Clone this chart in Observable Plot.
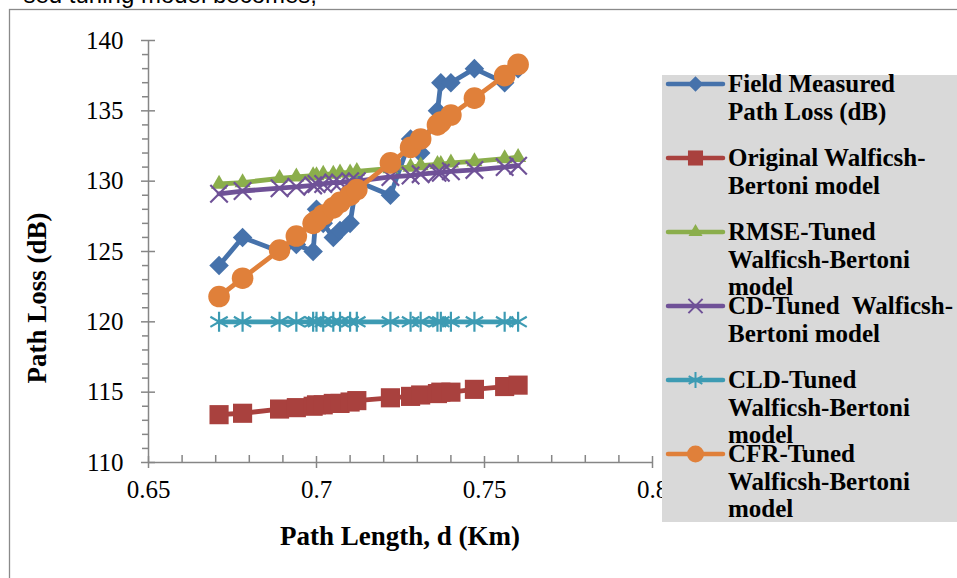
<!DOCTYPE html>
<html><head><meta charset="utf-8">
<script src="https://cdn.jsdelivr.net/npm/d3@7"></script>
<script src="https://cdn.jsdelivr.net/npm/@observablehq/plot@0.6"></script>
<style>body{margin:0;background:#fff;overflow:hidden}</style>
</head><body><div id="chart"></div>
<script>
// Path length d (Km)
const distance = [0.671,0.678,0.689,0.694,0.699,0.700,0.702,0.705,0.707,0.710,0.712,0.722,0.728,0.731,0.736,0.737,0.740,0.747,0.756,0.760];
const fieldMeasured = [124,126,125,125.5,125,128,127,126,126.5,127,130,129,133,132,135,137,137,138,137,138];
const originalWB = [113.4,113.5,113.8,113.9,114.0,114.1,114.1,114.2,114.2,114.3,114.4,114.6,114.7,114.8,114.9,115.0,115.0,115.2,115.4,115.5];
const rmseTuned = [129.8,129.9,130.2,130.3,130.4,130.4,130.5,130.5,130.6,130.6,130.7,130.9,131.0,131.1,131.2,131.2,131.3,131.4,131.6,131.7];
const cdTuned = [129.1,129.3,129.5,129.6,129.7,129.8,129.8,129.9,129.9,130.0,130.0,130.3,130.4,130.5,130.6,130.6,130.7,130.8,131.0,131.1];
const cldTuned = [120,120,120,120,120,120,120,120,120,120,120,120,120,120,120,120,120,120,120,120];
const cfrTuned = [121.8,123.1,125.1,126.1,127.0,127.2,127.6,128.1,128.5,129.0,129.4,131.3,132.4,133.0,134.0,134.2,134.7,135.9,137.5,138.3];

const legendLabels = [
  ["Field Measured", "Path Loss (dB)"],
  ["Original Walficsh-", "Bertoni model"],
  ["RMSE-Tuned", "Walficsh-Bertoni", "model"],
  ["CD-Tuned  Walficsh-", "Bertoni model"],
  ["CLD-Tuned", "Walficsh-Bertoni", "model"],
  ["CFR-Tuned", "Walficsh-Bertoni", "model"]
];
const xTicks = [0.65, 0.7, 0.75, 0.8];
const xTickLabels = ["0.65", "0.7", "0.75", "0.8"];
const xMinor = [0.66,0.67,0.68,0.69,0.71,0.72,0.73,0.74,0.76,0.77,0.78,0.79];
const yTicks = [110,115,120,125,130,135,140];
const yMinor = [111,112,113,114,116,117,118,119,121,122,123,124,126,127,128,129,131,132,133,134,136,137,138,139];
const xTitle = "Path Length, d (Km)";
const yTitle = "Path Loss (dB)";
const pageText = "sed tuning model becomes,";

const seriesValues = [fieldMeasured, originalWB, rmseTuned, cdTuned, cldTuned, cfrTuned];
const colors = ["#4672AB", "#A9413E", "#8BAE4C", "#6F5197", "#3D9BB3", "#E0803A"];
const styles = [
  {symbol: "diamond2", r: 8.8, fill: true},
  {symbol: "square", r: 10.8, fill: true},
  {symbol: "triangle", r: 6, fill: true},
  {symbol: "times", r: 8, fill: false},
  {symbol: "asterisk", r: 9.5, fill: false},
  {symbol: "circle", r: 10.8, fill: true}
];
const d3Symbols = [d3.symbolDiamond2, d3.symbolSquare, d3.symbolTriangle, d3.symbolTimes, d3.symbolAsterisk, d3.symbolCircle];

const rowsFor = (vals) => vals.map((v, i) => ({d: distance[i], v}));
const axisColor = "#868686";
const font = "Liberation Serif";

const marks = [];
marks.push(Plot.ruleX([0.65], {stroke: axisColor, strokeWidth: 1.5}));
marks.push(Plot.ruleY([110], {stroke: axisColor, strokeWidth: 1.5}));
marks.push(Plot.ruleY(yMinor, {x1: 0.65, x2: 0.65, insetLeft: -6, stroke: axisColor, strokeWidth: 1.5}));
marks.push(Plot.ruleY(yTicks, {x1: 0.65, x2: 0.65, insetLeft: -7, insetRight: -7, stroke: axisColor, strokeWidth: 1.5}));
marks.push(Plot.ruleX(xMinor, {y1: 110, y2: 110, insetTop: -7, stroke: axisColor, strokeWidth: 1.5}));
marks.push(Plot.ruleX(xTicks, {y1: 110, y2: 110, insetTop: -6, insetBottom: -6, stroke: axisColor, strokeWidth: 1.5}));
marks.push(Plot.axisY(yTicks, {tickSize: 0, tickPadding: 25, fontSize: 25, fontFamily: font, label: null, tickFormat: d => String(d)}));
marks.push(Plot.axisX(xTicks, {tickSize: 0, tickPadding: 18, fontSize: 25, fontFamily: font, label: null, tickFormat: d => xTickLabels[xTicks.indexOf(d)]}));

seriesValues.forEach((vals, s) => {
  const data = rowsFor(vals);
  marks.push(Plot.line(data, {x: "d", y: "v", stroke: colors[s], strokeWidth: 4.8, curve: "linear"}));
  const st = styles[s];
  if (st.fill) {
    marks.push(Plot.dot(data, {x: "d", y: "v", symbol: st.symbol, r: st.r, fill: colors[s], stroke: "none"}));
  } else {
    marks.push(Plot.dot(data, {x: "d", y: "v", symbol: st.symbol, r: st.r, fill: "none", stroke: colors[s], strokeWidth: 2.2}));
  }
});

const chart = Plot.plot({
  width: 957,
  height: 578,
  marginLeft: 148,
  marginRight: 305,
  marginTop: 40,
  marginBottom: 116,
  style: {fontFamily: font, background: "#fff", overflow: "hidden"},
  x: {domain: [0.65, 0.8], axis: null},
  y: {domain: [110, 140], axis: null},
  marks
});
document.getElementById("chart").appendChild(chart);

const svg = d3.select(chart);

svg.append("rect").attr("x", 9.5).attr("y", 9.5).attr("width", 1000).attr("height", 1000)
  .attr("fill", "none").attr("stroke", "#8a8a8a").attr("stroke-width", 1.3);
svg.append("text").attr("x", 317).attr("y", 3).attr("text-anchor", "end")
  .attr("font-family", "Liberation Sans").attr("font-size", 24).attr("fill", "#000").text(pageText);

svg.append("text").attr("x", 400).attr("y", 545).attr("text-anchor", "middle")
  .attr("font-family", font).attr("font-weight", "bold").attr("font-size", 27).attr("fill", "#000").text(xTitle);
svg.append("text").attr("transform", "translate(46,298) rotate(-90)").attr("text-anchor", "middle")
  .attr("font-family", font).attr("font-weight", "bold").attr("font-size", 27).attr("fill", "#000").text(yTitle);

const lg = svg.append("g");
lg.append("rect").attr("x", 662).attr("y", 75).attr("width", 300).attr("height", 447).attr("fill", "#D9D9D9");
const legendSize = [7, 8.5, 5.2, 6.5, 7.5, 8.5];
legendLabels.forEach((lines, s) => {
  const base = 92 + s * 74;
  const ly = base - 8;
  lg.append("line").attr("x1", 668).attr("x2", 723).attr("y1", ly).attr("y2", ly)
    .attr("stroke", colors[s]).attr("stroke-width", 4.5).attr("stroke-linecap", "round");
  const sym = d3.symbol(d3Symbols[s], legendSize[s] * legendSize[s] * Math.PI)();
  const p = lg.append("path").attr("d", sym).attr("transform", `translate(695.5,${ly})`);
  if (styles[s].fill) p.attr("fill", colors[s]); else p.attr("fill", "none").attr("stroke", colors[s]).attr("stroke-width", 2);
  const t = lg.append("text").attr("font-family", font).attr("font-weight", "bold").attr("font-size", 25)
    .attr("fill", "#000").attr("text-anchor", "start").style("white-space", "pre");
  lines.forEach((ln, j) => {
    t.append("tspan").attr("x", 728).attr("y", base + j * 27.5).text(ln);
  });
});
</script>
</body></html>
